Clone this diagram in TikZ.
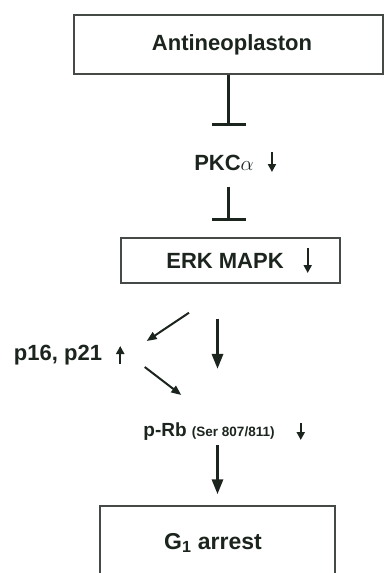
\documentclass[tikz,border=0pt]{standalone}
\usepackage{fontspec}
\setmainfont{Liberation Sans}
\usetikzlibrary{arrows.meta,calc,positioning}
\definecolor{InkDark}{RGB}{28,36,30}
\definecolor{BoxGray}{RGB}{70,74,70}

\begin{document}
\begin{tikzpicture}[x=1pt,y=-1pt,>=Latex,
    box/.style={draw=BoxGray,line width=1.4pt,inner sep=0pt},
    lbl/.style={font=\bfseries\fontsize{22}{24}\selectfont,text=InkDark,inner sep=0pt},
    inhibit/.style={-{Bar[width=34pt,line width=3pt]},line width=3pt,InkDark},
    flow/.style={-{Triangle[length=15pt,width=11pt]},line width=3pt,InkDark},
    side/.style={-{Triangle[length=10pt,width=8pt]},line width=2pt,InkDark},
    level/.style={-{Triangle[length=8pt,width=8pt]},line width=2.4pt,InkDark}]
  \useasboundingbox (0,0) rectangle (384,573);
  \clip (0,0) rectangle (384,573);
  % boxes and labels
  \node[box,lbl,minimum width=309pt,minimum height=59pt] (anti) at (228.5,44.5) {\hspace*{7pt}Antineoplaston};
  \node[lbl] (pkc) at (224,163) {PKC$\alpha$};
  \node[box,lbl,minimum width=219pt,minimum height=45pt] (erk) at (230.5,260.5) {ERK MAPK\hspace*{11pt}};
  \node[lbl] (p16) at (58,355) {p16, p21};
  \node[lbl,font=\bfseries\fontsize{19}{21}\selectfont] (prb) at (209,432) {p-Rb {\fontsize{13.5}{15}\selectfont(Ser 807/811)}};
  \node[box,lbl,font=\bfseries\fontsize{23}{25}\selectfont,minimum width=235pt,minimum height=74pt] (g1) at (217.5,543) {G\textsubscript{1} arrest\hspace*{9pt}};
  % up / down markers
  \draw[level] ($(pkc.east)+(18,-11)$) -- ($(pkc.east)+(18,9)$);
  \draw[level] ($(erk.east)+(-33,-12.5)$) -- ($(erk.east)+(-33,12.5)$);
  \draw[level] ($(p16.east)+(18,9)$) -- ($(p16.east)+(18,-9)$);
  \draw[level] ($(prb.east)+(26,-9)$) -- ($(prb.east)+(26,8)$);
  % connectors
  \draw[inhibit,shorten >=29pt] (anti.south) -- (anti.south |- pkc.north);
  \draw[inhibit,shorten <=16pt,shorten >=16pt] (anti.south |- pkc.south) -- (anti.south |- erk.north);
  \draw[side] ($(erk.south)+(-41.5,29)$) -- ($(p16.east)+(44.5,-14)$);
  \draw[flow,shorten <=35pt,shorten >=54pt] (g1.north |- erk.south) -- (g1.north |- prb.north);
  \draw[side] ($(p16.east)+(42.5,12)$) -- ($(prb.west)+(38,-37)$);
  \draw[flow,shorten <=4pt,shorten >=11pt] (g1.north |- prb.south) -- (g1.north);
\end{tikzpicture}
\end{document}
